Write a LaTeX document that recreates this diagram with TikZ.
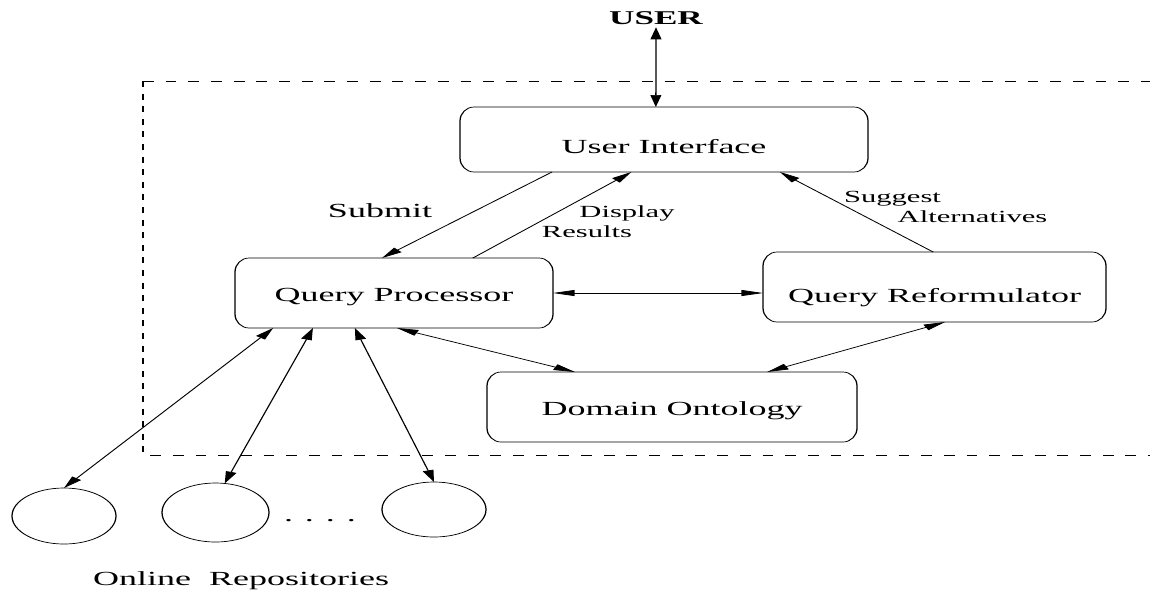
\documentclass[tikz,border=0pt]{standalone}
\usepackage{fontspec}
\setmainfont{Liberation Serif}
\usetikzlibrary{arrows.meta,calc,shapes.geometric}

% corner radii of the module frames (before the horizontal stretch)
\newcommand\cornerrx{7.8pt}
\newcommand\cornerry{14pt}
% rounded frame drawn around a named rectangular node
\newcommand\roundedframe[1]{%
  \draw[frame] ([yshift=-\cornerry]#1.north west)
    arc[start angle=180,end angle=90,x radius=\cornerrx,y radius=\cornerry]
    -- ([xshift=-\cornerrx]#1.north east)
    arc[start angle=90,end angle=0,x radius=\cornerrx,y radius=\cornerry]
    -- ([yshift=\cornerry]#1.south east)
    arc[start angle=0,end angle=-90,x radius=\cornerrx,y radius=\cornerry]
    -- ([xshift=\cornerrx]#1.south west)
    arc[start angle=270,end angle=180,x radius=\cornerrx,y radius=\cornerry]
    -- cycle;}

\tikzset{
  frame/.style={line width=0.7pt},
  box/.style={inner sep=0pt, outer sep=0pt, minimum height=70pt,
    text depth=0pt, font=\fontsize{20}{24}\selectfont},
  repo/.style={ellipse, draw, line width=0.7pt, inner sep=0pt, outer sep=0pt},
  wire/.style={line width=0.7pt, >={Triangle[length=12pt,width=6pt]}},
  big/.style={font=\fontsize{20}{24}\selectfont, inner sep=0pt},
  small/.style={font=\fontsize{17}{20}\selectfont, inner sep=0pt},
  boundary/.style={line width=0.7pt, dash pattern=on 6pt off 6.6pt},
}

\begin{document}
\begin{tikzpicture}
\path[fill=white, use as bounding box] (0pt,0pt) rectangle (1150pt,-590pt);
\begin{scope}[transform canvas={xscale=1.8}, x=0.555556pt, y=-1pt]

  % system boundary (open on the right)
  \coordinate (tl) at (143,81);
  \coordinate (tr) at (1150,81);
  \coordinate (bl) at (143,455);
  \coordinate (br) at (1150,455);
  \draw[boundary] (tl) -- (tr);
  \draw[boundary] (tl) -- (bl) -- (br);

  % modules
  \node[box, minimum width=226.67pt, minimum height=65pt, text height=27.6pt]
    (ui) at (664,139.5) {User Interface};
  \node[box, minimum width=176.67pt, text height=17.4pt]
    (qp) at (394,293) {Query Processor};
  \node[box, minimum width=190.56pt, text height=30pt]
    (qr) at (934.5,287) {Query Reformulator};
  \node[box, minimum width=205.56pt, text height=16pt]
    (onto) at (672,407) {Domain Ontology};
  \roundedframe{ui}
  \roundedframe{qp}
  \roundedframe{qr}
  \roundedframe{onto}

  % online repositories
  \node[repo, minimum width=57.78pt, minimum height=56pt] (r1) at (64,516) {};
  \node[repo, minimum width=59.44pt, minimum height=59pt] (r2) at (215.5,512.5) {};
  \node[repo, minimum width=57.78pt, minimum height=55pt] (r3) at (434,509.5) {};
  \node[big, anchor=base] (dots) at (320,521) {. . . .};
  \node[big, anchor=base] (online) at (241,585) {Online~~Repositories};

  % user
  \node[font=\fontsize{19.5}{23}\selectfont\bfseries, inner sep=2pt]
    (user) at (656,18.5) {USER};

  % labels
  \node[big, anchor=base] (submit) at (380,217) {Submit};
  \node[small, anchor=base] (disp1) at (627,217) {Display};
  \node[small, anchor=base] (disp2) at (587,237) {Results};
  \node[small, anchor=base] (sug1) at (892.5,202) {Suggest};
  \node[small, anchor=base] (sug2) at (972.5,222) {Alternatives};

  % connectors
  \draw[wire, <->] (user.south) -- ($(ui.north west)!0.480!(ui.north east)$);
  \draw[wire, ->] ($(ui.south west)!0.2255!(ui.south east)$)
    -- ($(qp.north west)!0.462!(qp.north east)$);
  \draw[wire, ->] ($(qp.north west)!0.748!(qp.north east)$)
    -- ($(ui.south west)!0.42!(ui.south east)$);
  \draw[wire, ->] ($(qr.north west)!0.496!(qr.north east)$)
    -- ($(ui.south west)!0.784!(ui.south east)$);
  \draw[wire, <->] (qp.east) -- (qp.east -| qr.west);
  \draw[wire, <->] ($(qp.south west)!0.509!(qp.south east)$)
    -- ($(onto.north west)!0.238!(onto.north east)$);
  \draw[wire, <->] ($(onto.north west)!0.757!(onto.north east)$)
    -- ($(qr.south west)!0.531!(qr.south east)$);
  \draw[wire, <->] ($(qp.south west)!0.12!(qp.south east)$) -- (r1.north);
  \draw[wire, <->] ($(qp.south west)!0.245!(qp.south east)$) -- (r2.80);
  \draw[wire, <->] ($(qp.south west)!0.377!(qp.south east)$) -- (r3.north);
\end{scope}
\end{tikzpicture}
\end{document}
